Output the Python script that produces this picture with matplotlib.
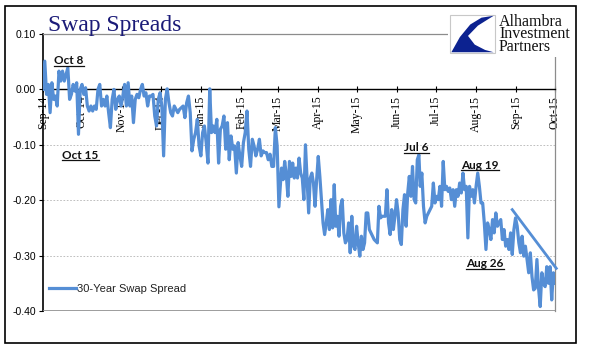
import matplotlib
matplotlib.use('Agg')
import matplotlib.pyplot as plt
import matplotlib.dates as mdates
from matplotlib.patches import Rectangle, Polygon
from matplotlib.lines import Line2D
import numpy as np
import pandas as pd

# 30-year swap spread in three stretches
# Sep 2014 - early Mar 2015
spread_a = [
    0.000, 0.051, -0.009, 0.009, -0.042, 0.012, -0.018, -0.012, -0.030, 0.033,
    0.015, 0.033, 0.015, 0.027, 0.039, -0.018, -0.009, 0.009, -0.003, 0.012,
    -0.081, 0.000, 0.009, -0.009, 0.003, -0.030, -0.039, -0.030, -0.039, -0.030,
    -0.036, 0.000, 0.009, -0.030, -0.018, -0.030, -0.012, -0.042, -0.069, -0.018,
    0.000, -0.036, -0.018, -0.012, -0.030, -0.012, 0.009, -0.030, 0.012, -0.030,
    -0.012, -0.060, -0.018, -0.009, -0.015, 0.000, 0.009, -0.012, -0.006, -0.030,
    -0.012, -0.012, -0.009, -0.048, -0.066, -0.018, -0.006, -0.030, -0.120, -0.018,
    0.001, -0.024, -0.042, -0.048, -0.030, -0.036, -0.042, -0.036, -0.033, -0.030,
    -0.051, -0.024, -0.012, -0.042, -0.111, -0.090, -0.078, -0.054, -0.102, -0.120,
    -0.078, -0.066, -0.096, -0.133, 0.001, -0.078, -0.066, -0.078, -0.054, -0.133,
    -0.072, -0.066, -0.048, -0.108, -0.060, -0.127, -0.084, -0.108, -0.102, -0.151,
    -0.096, -0.120, -0.139, -0.096, -0.078, -0.039, -0.108, -0.139, -0.090, -0.102,
    -0.120, -0.108, -0.090, -0.120, -0.111, -0.114, -0.114, -0.127, -0.117, -0.139,
    -0.139, -0.069, -0.102, -0.212,
]
# Mar 2015 - mid Jun 2015
spread_b = [
    -0.142, -0.163, -0.130, -0.154, -0.193, -0.130, -0.157, -0.133, -0.160, -0.142,
    -0.160, -0.124, -0.151, -0.160, -0.199, -0.100, -0.163, -0.223, -0.160, -0.151,
    -0.169, -0.211, -0.163, -0.121, -0.157, -0.199, -0.241, -0.262, -0.241, -0.217,
    -0.253, -0.199, -0.250, -0.172, -0.247, -0.229, -0.265, -0.211, -0.199, -0.259,
    -0.277, -0.271, -0.241, -0.295, -0.229, -0.283, -0.289, -0.247, -0.277, -0.301,
    -0.265, -0.289, -0.277, -0.223, -0.223, -0.253, -0.259, -0.265, -0.271, -0.274,
    -0.277, -0.211, -0.232, -0.229, -0.229, -0.229, -0.181, -0.241, -0.262, -0.217,
    -0.253, -0.229, -0.199, -0.223, -0.271, -0.280, -0.217, -0.190, -0.247, -0.187,
    -0.157, -0.193, -0.139, -0.199, -0.205, -0.127, -0.118,
]
# mid Jun 2015 - Oct 2015
spread_c = [
    -0.175, -0.151, -0.211, -0.241, -0.229, -0.223, -0.217, -0.211, -0.169, -0.205,
    -0.193, -0.199, -0.175, -0.211, -0.130, -0.181, -0.175, -0.184, -0.178, -0.199,
    -0.181, -0.211, -0.181, -0.193, -0.169, -0.187, -0.151, -0.181, -0.175, -0.268,
    -0.175, -0.193, -0.181, -0.205, -0.175, -0.151, -0.175, -0.205, -0.205, -0.241,
    -0.289, -0.241, -0.253, -0.271, -0.235, -0.259, -0.223, -0.247, -0.241, -0.235,
    -0.271, -0.253, -0.283, -0.271, -0.289, -0.259, -0.298, -0.253, -0.232, -0.247,
    -0.277, -0.295, -0.265, -0.301, -0.283, -0.307, -0.331, -0.295, -0.338, -0.362,
    -0.359, -0.307, -0.359, -0.392, -0.331, -0.350, -0.356, -0.320, -0.350, -0.320,
    -0.380, -0.331, -0.350,
]
stretch_dates = [('2014-09-01', '2015-03-02'),
                 ('2015-03-04', '2015-06-18'),
                 ('2015-06-19', '2015-10-01')]

trend_dates = pd.to_datetime(['2015-08-29', '2015-10-02'])
trend_vals = [-0.217, -0.323]

y_ticks = [0.10, 0.00, -0.10, -0.20, -0.30, -0.40]
y_labels = ['0.10', '0.00', '-0.10', '-0.20', '-0.30', '-0.40']
month_ticks = pd.date_range('2014-09-01', '2015-10-01', freq='MS')

notes = [('Oct 8', '2014-09-21', 0.052),
         ('Oct 15', '2014-09-30', -0.119),
         ('Jul 6', '2015-06-16', -0.105),
         ('Aug 19', '2015-08-04', -0.137),
         ('Aug 26', '2015-08-08', -0.315)]

dates = []
for vals, (d0, d1) in zip([spread_a, spread_b, spread_c], stretch_dates):
    dates.extend(pd.date_range(d0, d1, periods=len(vals)))
spread = spread_a + spread_b + spread_c

blue = '#558ED5'
grey = '#8c8c8c'

W, H = 598, 361
fig = plt.figure(figsize=(W / 100, H / 100), dpi=100)
ax = fig.add_axes([43 / W, 1 - 311 / H, 512 / W, 277 / H])

ax.plot(dates, spread, color=blue, lw=2.3, solid_joinstyle='round', zorder=3,
        label='30-Year Swap Spread')
ax.plot(trend_dates, trend_vals, color=blue, lw=2.0, zorder=3, clip_on=False)

ax.set_xlim(pd.Timestamp('2014-09-01'), pd.Timestamp('2015-10-01'))
ax.set_ylim(-0.40, 0.10)

# y axis
ax.set_yticks(y_ticks)
ax.set_yticklabels(y_labels, fontfamily='Liberation Sans', fontsize=7.5)
ax.tick_params(axis='y', direction='out', length=3, width=0.8, pad=2, colors='black')
ax.yaxis.grid(True, linestyle=(0, (2, 2)), color='#b4b4b4', lw=0.6)
ax.set_axisbelow(True)

# x axis crosses at zero, labels rotated inside the plot
ax.spines['bottom'].set_position(('data', 0))
ax.spines['bottom'].set_linewidth(1.0)
ax.set_xticks(month_ticks)
ax.xaxis.set_major_formatter(mdates.DateFormatter('%b-%y'))
ax.tick_params(axis='x', direction='inout', length=5, width=0.8, pad=2,
               labelrotation=90, labelsize=8.5)
for t in ax.get_xticklabels():
    t.set_fontfamily('Liberation Serif')

ax.spines['left'].set_linewidth(1.2)
for s in ['top', 'right']:
    ax.spines[s].set_color(grey)
    ax.spines[s].set_linewidth(0.9)
ax.axhline(-0.40, color=grey, lw=1.2, zorder=2.6)

# annotations
for txt, d, v in notes:
    ax.text(mdates.date2num(pd.Timestamp(d)), v, txt, ha='center', va='center',
            fontsize=8.5, fontweight='bold', fontfamily='Lato', zorder=5,
            color='#111111')

leg = ax.legend(loc='lower left', bbox_to_anchor=(0.004, 0.045), frameon=False,
                handlelength=2.4, handletextpad=0.1, borderaxespad=0,
                prop={'family': 'Liberation Sans', 'size': 8})
for t in leg.get_texts():
    t.set_color('#222222')

# title
fig.text(48 / W, 1 - 31 / H, 'Swap Spreads', fontsize=17, color='#1b1b78',
         fontfamily='Liberation Serif', ha='left', va='baseline')

# logo block on white ground
fig.patches.append(Rectangle((448 / W, 1 - 57 / H), 125 / W, 47 / H,
                             transform=fig.transFigure, facecolor='white',
                             edgecolor='none', zorder=4))
bx, by, bw, bh = 450 / W, 1 - 53 / H, 45 / W, 38 / H
fig.patches.append(Rectangle((bx, by), bw, bh, transform=fig.transFigure,
                             facecolor='white', edgecolor='#c8c8c8', lw=0.8, zorder=5))
shape = [(0.03, 0.02), (0.22, 0.42), (0.45, 0.75), (0.70, 0.93), (0.97, 0.98),
         (0.62, 0.72), (0.40, 0.45), (0.55, 0.22), (0.78, 0.08), (0.97, 0.02)]
fig.patches.append(Polygon([(bx + px * bw, by + py * bh) for px, py in shape],
                           closed=True, transform=fig.transFigure,
                           facecolor='#0c2290', edgecolor='none', zorder=6))
fig.text(499 / W, 1 - 14 / H, 'Alhambra\nInvestment\nPartners', fontsize=11.5,
         fontfamily='Liberation Serif', color='#111111', ha='left', va='top',
         linespacing=0.7, zorder=7)

# outer frame
fig.patches.append(Rectangle((5 / W, 1 - 343 / H), 571 / W, 337 / H,
                             transform=fig.transFigure, facecolor='none',
                             edgecolor='black', lw=1.2, zorder=8))

# underline annotation texts
fig.canvas.draw()
r = fig.canvas.get_renderer()
for t in ax.texts:
    bb = t.get_window_extent(r)
    yl = bb.y0 + 0.5
    fig.lines.append(Line2D([bb.x0 / W, bb.x1 / W], [yl / H, yl / H],
                            transform=fig.transFigure, color='#111111', lw=0.9))

fig.savefig('out.png', dpi=100)
